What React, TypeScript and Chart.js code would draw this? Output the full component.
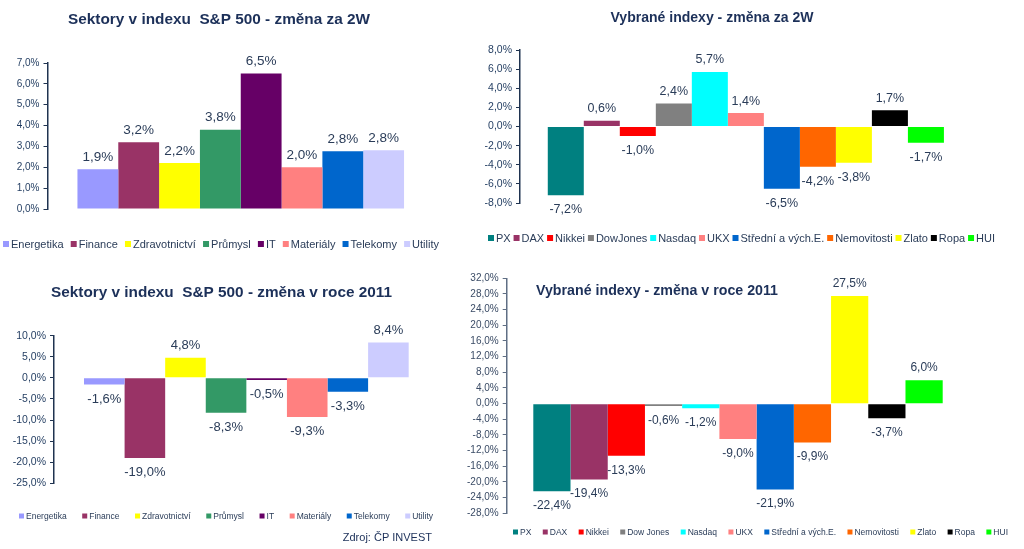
import React, { useEffect, useRef } from 'react';
import { Chart, registerables } from 'chart.js';

Chart.register(...registerables);

// ---------- data ----------
const sectorLabels = ['Energetika', 'Finance', 'Zdravotnictví', 'Průmysl', 'IT', 'Materiály', 'Telekomy', 'Utility'];
const sectorColors = ['#9999FF', '#993366', '#FFFF00', '#339966', '#660066', '#FF8080', '#0066CC', '#CCCCFF'];
const sector2W = [1.9, 3.2, 2.2, 3.8, 6.5, 2.0, 2.77, 2.82];
const sector2011 = [-1.6, -19.0, 4.8, -8.3, -0.5, -9.3, -3.3, 8.4];

const indexLabels2W = ['PX', 'DAX', 'Nikkei', 'DowJones', 'Nasdaq', 'UKX', 'Střední a vých.E.', 'Nemovitosti', 'Zlato', 'Ropa', 'HUI'];
const indexLabels2011 = ['PX', 'DAX', 'Nikkei', 'Dow Jones', 'Nasdaq', 'UKX', 'Střední a vých.E.', 'Nemovitosti', 'Zlato', 'Ropa', 'HUI'];
const indexColors = ['#008080', '#993366', '#FF0000', '#808080', '#00FFFF', '#FF8080', '#0066CC', '#FF6600', '#FFFF00', '#000000', '#00FF00'];
const index2W = [-7.2, 0.6, -1.0, 2.4, 5.7, 1.4, -6.5, -4.2, -3.8, 1.7, -1.7];
const index2011 = [-22.4, -19.4, -13.3, -0.6, -1.2, -9.0, -21.9, -9.9, 27.5, -3.7, 6.0];

const titles = [
  'Sektory v indexu  S&P 500 - změna za 2W',
  'Vybrané indexy - změna za 2W',
  'Sektory v indexu  S&P 500 - změna v roce 2011',
  'Vybrané indexy - změna v roce 2011',
];
const sourceText = 'Zdroj: ČP INVEST';

// ---------- styling / layout ----------
const FONT = 'Arial, "Liberation Sans", Helvetica, sans-serif';
const W = 1024;
const H = 549;
const TITLE_COLOR = '#1C3059';
const TEXT_COLOR = '#2A3C58';

type Spec = {
  title: string;
  titleX: number;
  titleY: number;
  titleW: number;
  titleSize: number;
  titleAlign: 'center' | 'left';
  labels: string[];
  colors: string[];
  values: number[];
  area: { left: number; right: number; top: number; bottom: number };
  yMin: number;
  yMax: number;
  yStep: number;
  catPct: number;
  tickSize: number;
  tickColor: string;
  axisColor: string;
  valueSize: number;
  legend: { x0: number; x1: number; y: number; size: number; box: number };
  extra?: { text: string; x: number; y: number; size: number };
};

const fmt = (v: number) => v.toFixed(1).replace('.', ',') + '%';

const specs: Spec[] = [
  {
    title: titles[0], titleX: 219, titleY: 20, titleW: 302, titleSize: 15, titleAlign: 'center',
    labels: sectorLabels, colors: sectorColors, values: sector2W,
    area: { left: 47.5, right: 434, top: 63, bottom: 209 },
    yMin: 0, yMax: 7, yStep: 1, catPct: 0.845,
    tickSize: 10, tickColor: '#1F3A5F', axisColor: '#1F3350', valueSize: 13.5,
    legend: { x0: 3, x1: 439, y: 244, size: 11, box: 6 },
  },
  {
    title: titles[1], titleX: 712, titleY: 18, titleW: 203, titleSize: 15, titleAlign: 'center',
    labels: indexLabels2W, colors: indexColors, values: index2W,
    area: { left: 520, right: 971.7, top: 50, bottom: 203 },
    yMin: -8, yMax: 8, yStep: 2, catPct: 0.877,
    tickSize: 10.5, tickColor: '#1F3A5F', axisColor: '#1F3350', valueSize: 12.5,
    legend: { x0: 488, x1: 995, y: 238, size: 11, box: 6 },
  },
  {
    title: titles[2], titleX: 221.5, titleY: 293, titleW: 341, titleSize: 15, titleAlign: 'center',
    labels: sectorLabels, colors: sectorColors, values: sector2011,
    area: { left: 54, right: 438.7, top: 335.7, bottom: 483.3 },
    yMin: -25, yMax: 10, yStep: 5, catPct: 0.844,
    tickSize: 10.5, tickColor: '#1F3A5F', axisColor: '#1F3350', valueSize: 13,
    legend: { x0: 19, x1: 433, y: 516, size: 8.5, box: 5 },
    extra: { text: sourceText, x: 432, y: 538, size: 11 },
  },
  {
    title: titles[3], titleX: 536, titleY: 291, titleW: 242, titleSize: 15, titleAlign: 'left',
    labels: indexLabels2011, colors: indexColors, values: index2011,
    area: { left: 506.7, right: 969.3, top: 278.3, bottom: 513.3 },
    yMin: -28, yMax: 32, yStep: 4, catPct: 0.885,
    tickSize: 10, tickColor: '#3B4C66', axisColor: '#5F6E84', valueSize: 12,
    legend: { x0: 513, x1: 1008, y: 532, size: 8.5, box: 5 },
  },
];

function makeDecorPlugin(spec: Spec) {
  return {
    id: 'decor',
    afterDatasetsDraw(chart: any) {
      const ctx: CanvasRenderingContext2D = chart.ctx;
      ctx.save();
      // value labels
      ctx.font = `${spec.valueSize}px ${FONT}`;
      ctx.fillStyle = TEXT_COLOR;
      ctx.textAlign = 'center';
      ctx.textBaseline = 'middle';
      chart.data.datasets.forEach((ds: any, i: number) => {
        const meta = chart.getDatasetMeta(i);
        const el = meta.data[0];
        const v = ds.data[0] as number;
        if (!el) return;
        const y = v >= 0 ? el.y - 12 : el.y + 14.5;
        ctx.fillText(fmt(v), el.x, y);
      });

      // title: fixed size, horizontally condensed to the target width
      ctx.font = `bold ${spec.titleSize}px ${FONT}`;
      const tw = ctx.measureText(spec.title).width;
      const sx = spec.titleW / tw;
      ctx.fillStyle = TITLE_COLOR;
      ctx.textAlign = 'left';
      ctx.textBaseline = 'middle';
      const left = spec.titleAlign === 'center' ? spec.titleX - spec.titleW / 2 : spec.titleX;
      ctx.save();
      ctx.translate(left, spec.titleY);
      ctx.scale(sx, 1);
      ctx.fillText(spec.title, 0, 0);
      ctx.restore();

      // legend, items distributed over the span
      const lg = spec.legend;
      ctx.font = `${lg.size}px ${FONT}`;
      ctx.textAlign = 'left';
      ctx.textBaseline = 'middle';
      const widths = spec.labels.map((l) => lg.box + 2 + ctx.measureText(l).width);
      const total = widths.reduce((a, b) => a + b, 0);
      const gap = (lg.x1 - lg.x0 - total) / (spec.labels.length - 1);
      let x = lg.x0;
      spec.labels.forEach((l, i) => {
        ctx.fillStyle = spec.colors[i];
        ctx.fillRect(x, lg.y - lg.box / 2, lg.box, lg.box);
        ctx.fillStyle = TEXT_COLOR;
        ctx.fillText(l, x + lg.box + 2, lg.y + 0.5);
        x += widths[i] + gap;
      });

      if (spec.extra) {
        ctx.font = `${spec.extra.size}px ${FONT}`;
        ctx.textAlign = 'right';
        ctx.fillStyle = TITLE_COLOR;
        ctx.fillText(spec.extra.text, spec.extra.x, spec.extra.y);
      }
      ctx.restore();
    },
  };
}

function BarPanel({ spec }: { spec: Spec }) {
  const ref = useRef<HTMLCanvasElement>(null);
  useEffect(() => {
    if (!ref.current) return;
    const a = spec.area;
    const chart = new Chart(ref.current, {
      type: 'bar',
      data: {
        labels: [''],
        datasets: spec.labels.map((l, i) => ({
          label: l,
          data: [spec.values[i]],
          backgroundColor: spec.colors[i],
          borderWidth: 0,
          barPercentage: 1,
          categoryPercentage: spec.catPct,
        })),
      },
      options: {
        responsive: false,
        animation: false,
        events: [],
        layout: {
          padding: { left: 0, top: a.top, right: W - a.right, bottom: H - a.bottom },
        },
        plugins: {
          legend: { display: false },
          title: { display: false },
          tooltip: { enabled: false },
        },
        scales: {
          x: { display: false },
          y: {
            min: spec.yMin,
            max: spec.yMax,
            afterFit: (scale: any) => {
              scale.width = a.left;
            },
            ticks: {
              stepSize: spec.yStep,
              padding: 4,
              color: spec.tickColor,
              font: { family: FONT, size: spec.tickSize },
              callback: (v: any) => fmt(Number(v)),
            },
            grid: {
              display: true,
              drawOnChartArea: false,
              drawTicks: true,
              tickLength: 4,
              color: spec.axisColor,
              lineWidth: 1,
            },
            border: { display: true, color: spec.axisColor, width: 1.5 },
          },
        },
      },
      plugins: [makeDecorPlugin(spec)],
    } as any);
    return () => chart.destroy();
  }, [spec]);
  return (
    <canvas
      ref={ref}
      width={W}
      height={H}
      style={{ position: 'absolute', left: 0, top: 0, width: W, height: H }}
    />
  );
}

export default function App() {
  return (
    <div
      style={{
        position: 'absolute',
        left: 0,
        top: 0,
        width: W,
        height: H,
        background: '#FFFFFF',
        overflow: 'hidden',
      }}
    >
      {specs.map((s, i) => (
        <BarPanel key={i} spec={s} />
      ))}
    </div>
  );
}
